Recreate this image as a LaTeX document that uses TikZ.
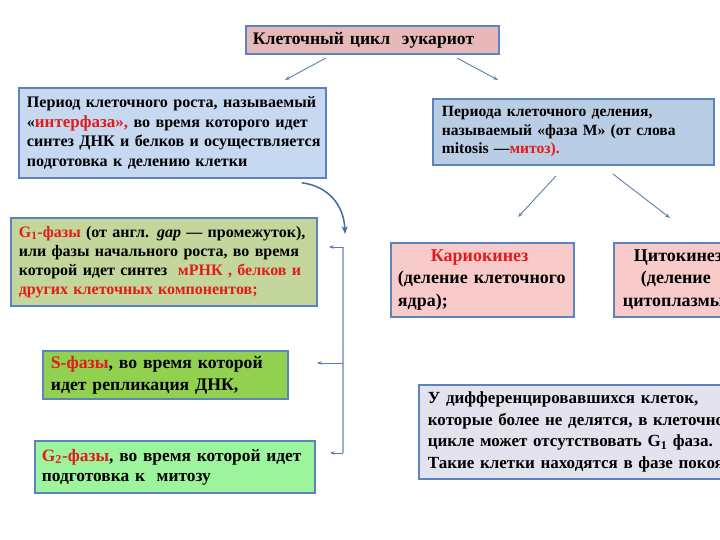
\documentclass[tikz,border=0pt]{standalone}
\usepackage{fontspec}
\setmainfont{Liberation Serif}
\usetikzlibrary{arrows.meta}
\definecolor{bord}{HTML}{5B83BE}
\definecolor{titlefill}{HTML}{E6B9B8}
\definecolor{interfill}{HTML}{C6D9F1}
\definecolor{mitfill}{HTML}{B9CDE5}
\definecolor{gonefill}{HTML}{C3D69B}
\definecolor{sfill}{HTML}{92D050}
\definecolor{gtwofill}{HTML}{9CF59C}
\definecolor{karfill}{HTML}{F9CACA}
\definecolor{restfill}{HTML}{E4E2EE}
\definecolor{txtred}{HTML}{E31B1B}
\definecolor{arrc}{HTML}{5A7DB0}
\definecolor{curvc}{HTML}{3F6CA8}
\definecolor{brkc}{HTML}{9AAFCF}
\newcommand\Lline[1]{\mbox{#1}}
\newcommand\rd[1]{\textcolor{txtred}{#1}}
\begin{document}
\begin{tikzpicture}[x=1pt,y=-1pt,
  box/.style={draw=bord, line width=1.8pt, anchor=north west, inner xsep=7pt, inner ysep=0pt, align=left},
  conn/.style={draw=arrc, line width=0.9pt, -{Stealth[length=5pt,width=3.5pt]}},
  curv/.style={draw=curvc, line width=1.5pt, -{Stealth[length=8pt,width=6pt,open]}},
  brk/.style={draw=brkc, line width=1.5pt}]
\useasboundingbox (0,0) rectangle (720,540);
\clip (0,0) rectangle (720,540);

\node[box, fill=titlefill, minimum width=253, minimum height=28, text width=239,
  font=\bfseries\fontsize{17.6}{19}\selectfont] (title) at (245,25) {\Lline{Клеточный цикл\ \ эукариот}};

\node[box, fill=interfill, minimum width=307, minimum height=90, text width=291, inner xsep=8pt,
  font=\bfseries\fontsize{16.1}{19.5}\selectfont] (inter) at (18,87)
  {\Lline{Период клеточного роста, называемый}\\
   \Lline{«\rd{\fontsize{17}{19.5}\selectfont интерфаза»,} во время которого идет}\\
   \Lline{синтез ДНК и белков и осуществляется}\\
   \Lline{подготовка к делению клетки}};

\node[box, fill=mitfill, minimum width=281, minimum height=66, text width=263, inner xsep=9pt,
  font=\bfseries\fontsize{15.6}{18.5}\selectfont] (mit) at (432,98)
  {\Lline{Периода клеточного деления,}\\
   \Lline{называемый «фаза М» (от слова}\\
   \Lline{mitosis —\rd{митоз).}}};

\node[box, fill=gonefill, minimum width=306, minimum height=88, text width=290, inner xsep=8pt,
  font=\bfseries\fontsize{16}{19}\selectfont] (gone) at (10,217)
  {\Lline{\rd{G\textsubscript{1}-фазы} (от англ. \textit{gap} — промежуток),}\\
   \Lline{или фазы начального роста, во время}\\
   \Lline{которой идет синтез \ \rd{мРНК , белков и}}\\
   \Lline{\rd{других клеточных компонентов;}}};

\node[box, fill=karfill, minimum width=183, minimum height=74, text width=169,
  font=\bfseries\fontsize{18}{22.5}\selectfont] (kar) at (390,242)
  {\Lline{\hspace*{33pt}\rd{Кариокинез}}\\
   \Lline{(деление клеточного}\\
   \Lline{ядра);}};

\node[box, fill=karfill, minimum width=180, minimum height=74, text width=166, inner xsep=9pt,
  font=\bfseries\fontsize{18}{22.5}\selectfont] (cyto) at (613,242)
  {\Lline{\hspace*{11pt}Цитокинез}\\
   \Lline{\hspace*{18pt}(деление}\\
   \Lline{цитоплазмы);}};

\node[box, fill=sfill, minimum width=245, minimum height=48, text width=229, inner xsep=8pt,
  font=\bfseries\fontsize{17.7}{22}\selectfont] (sph) at (42,350)
  {\Lline{\rd{S-фазы}, во время которой}\\
   \Lline{идет репликация ДНК,}};

\node[box, fill=gtwofill, minimum width=280, minimum height=52, text width=266,
  font=\bfseries\fontsize{17.4}{20}\selectfont] (gtwo) at (34,440)
  {\Lline{\rd{G\textsubscript{2}-фазы}, во время которой идет}\\
   \Lline{подготовка к\ \ митозу}};

\node[box, fill=restfill, minimum width=340, minimum height=94, text width=322, inner xsep=9pt,
  font=\bfseries\fontsize{17}{21.5}\selectfont] (rest) at (418,384)
  {\Lline{У дифференцировавшихся клеток,}\\
   \Lline{которые более не делятся, в клеточном}\\
   \Lline{цикле может отсутствовать G\textsubscript{1} фаза.}\\
   \Lline{Такие клетки находятся в фазе покоя.}};

% connectors from title
\coordinate (tl1) at (326,58); \coordinate (tl2) at (285,80);
\coordinate (tr1) at (457,58); \coordinate (tr2) at (498,80);
\draw[conn] (tl1) -- (tl2);
\draw[conn] (tr1) -- (tr2);
% connectors from mitosis
\coordinate (ml1) at (556,176); \coordinate (ml2) at (518,217);
\coordinate (mr1) at (613,174); \coordinate (mr2) at (670,218);
\draw[conn] (ml1) -- (ml2);
\draw[conn] (mr1) -- (mr2);

% curved arrow
\coordinate (ctip) at (345,234);
\draw[curv] ([xshift=-25pt,yshift=-4pt]inter.south east) .. controls (328,186) and (344,205) .. (ctip);

% bracket
\coordinate (btop) at (343,247);
\coordinate (bmid) at (343,363);
\coordinate (bbot) at (343,453);
\draw[brk] (btop) -- (bbot);
\draw[conn] (btop) -- ([xshift=11pt]gone.east |- btop);
\draw[conn] (bmid) -- ([xshift=28pt]sph.east |- bmid);
\draw[conn] (bbot) -- ([xshift=14pt]gtwo.east |- bbot);
\end{tikzpicture}
\end{document}
